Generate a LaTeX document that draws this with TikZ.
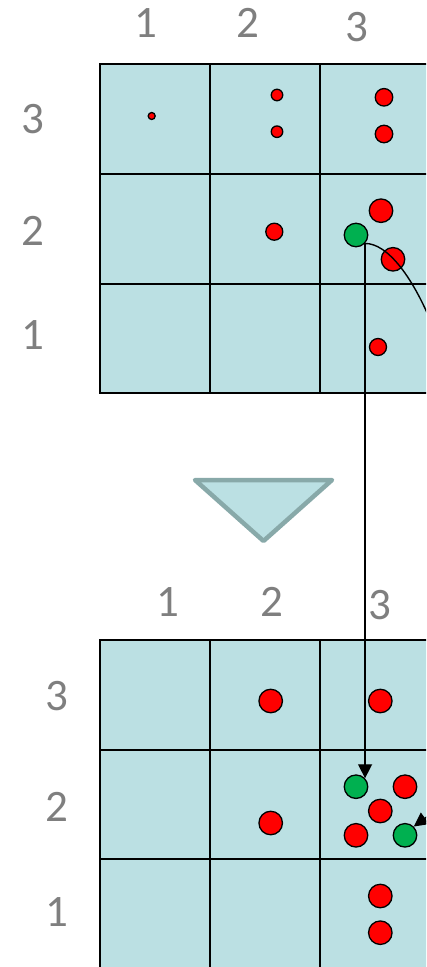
\documentclass[tikz,border=0pt]{standalone}
\usepackage{fontspec}
\setmainfont{Carlito}
\usetikzlibrary{arrows.meta}
\definecolor{cellfill}{HTML}{BBE0E3}
\definecolor{triedge}{HTML}{88A9A9}
\definecolor{lblgray}{HTML}{7F7F7F}
\definecolor{reddot}{HTML}{FF0000}
\definecolor{greendot}{HTML}{00B050}
\tikzset{
  gridline/.style={draw=black, line width=1.4pt},
  lbl/.style={text=lblgray, font=\fontsize{45}{54}\selectfont, inner sep=0pt, anchor=center},
  rdot/.style={circle, draw=black, line width=1.3pt, fill=reddot, inner sep=0pt, minimum size=#1},
  gdot/.style={circle, draw=black, line width=1.3pt, fill=greendot, inner sep=0pt, minimum size=#1},
  conn/.style={draw=black, line width=1.4pt, -{Triangle[width=14pt,length=14pt]}}
}
\begin{document}
\begin{tikzpicture}[x=1pt,y=-1pt]
\path[use as bounding box] (0,0) rectangle (426,967);
\clip (0,0) rectangle (426,967);
% top grid
\fill[cellfill] (100,64) rectangle (430,393);
\draw[gridline] (100,64) rectangle (430,393);
\draw[gridline] (100,174) -- (430,174) (100,284) -- (430,284);
\draw[gridline] (210,64) -- (210,393) (320,64) -- (320,393);
% bottom grid
\fill[cellfill] (100,640) rectangle (430,969);
\draw[gridline] (100,640) rectangle (430,969);
\draw[gridline] (100,750) -- (430,750) (100,859) -- (430,859);
\draw[gridline] (210,640) -- (210,969) (320,640) -- (320,969);
% triangle
\draw[fill=cellfill, draw=triedge, line width=4.5pt, line join=round] (195,480) -- (332,480) -- (263.5,541) -- cycle;
% labels
\node[lbl] (tc1) at (146,23) {1};
\node[lbl] (tc2) at (248,23) {2};
\node[lbl] (tc3) at (357,27) {3};
\node[lbl] (tr3) at (33,119) {3};
\node[lbl] (tr2) at (33,231) {2};
\node[lbl] (tr1) at (33,335) {1};
\node[lbl] (bc1) at (168,602) {1};
\node[lbl] (bc2) at (272,602) {2};
\node[lbl] (bc3) at (380,605) {3};
\node[lbl] (br3) at (57,696) {3};
\node[lbl] (br2) at (57,807) {2};
\node[lbl] (br1) at (57,912) {1};
% top dots
\node[rdot=7pt] (t13) at (151.7,116) {};
\node[rdot=11.5pt] (t23a) at (277,95) {};
\node[rdot=11.5pt] (t23b) at (277,131.7) {};
\node[rdot=17.5pt] (t33a) at (384,97.3) {};
\node[rdot=17.5pt] (t33b) at (384,134) {};
\node[rdot=17pt] (t22) at (274.3,231.7) {};
\node[rdot=23.5pt] (t32a) at (381,210.7) {};
\node[gdot=23.5pt] (g1) at (356,235) {};
\node[rdot=23.5pt] (t32b) at (393,259.3) {};
\node[rdot=17pt] (t31) at (378,347) {};
% bottom dots
\node[rdot=23.5pt] (b23) at (270.7,701) {};
\node[rdot=23.5pt] (b33) at (380.3,701) {};
\node[rdot=23.5pt] (b22) at (270.7,823) {};
\node[gdot=23.5pt] (g2) at (356,786.7) {};
\node[rdot=23.5pt] (b32a) at (405,786.7) {};
\node[rdot=23.5pt] (b32b) at (380.3,811) {};
\node[rdot=23.5pt] (b32c) at (356,835.3) {};
\node[gdot=23.5pt] (g3) at (405,835.3) {};
\node[rdot=23.5pt] (b31a) at (380.3,896) {};
\node[rdot=23.5pt] (b31b) at (380.3,932.7) {};
% connectors
\coordinate (mid) at (470,530);
\draw[conn] (g1.-43) -- (g2.43);
\draw[conn] (g1.-43) .. controls (410,243) and (470,380) .. (mid) .. controls (470,700) and (450,800) .. (g3.45);
\end{tikzpicture}
\end{document}
